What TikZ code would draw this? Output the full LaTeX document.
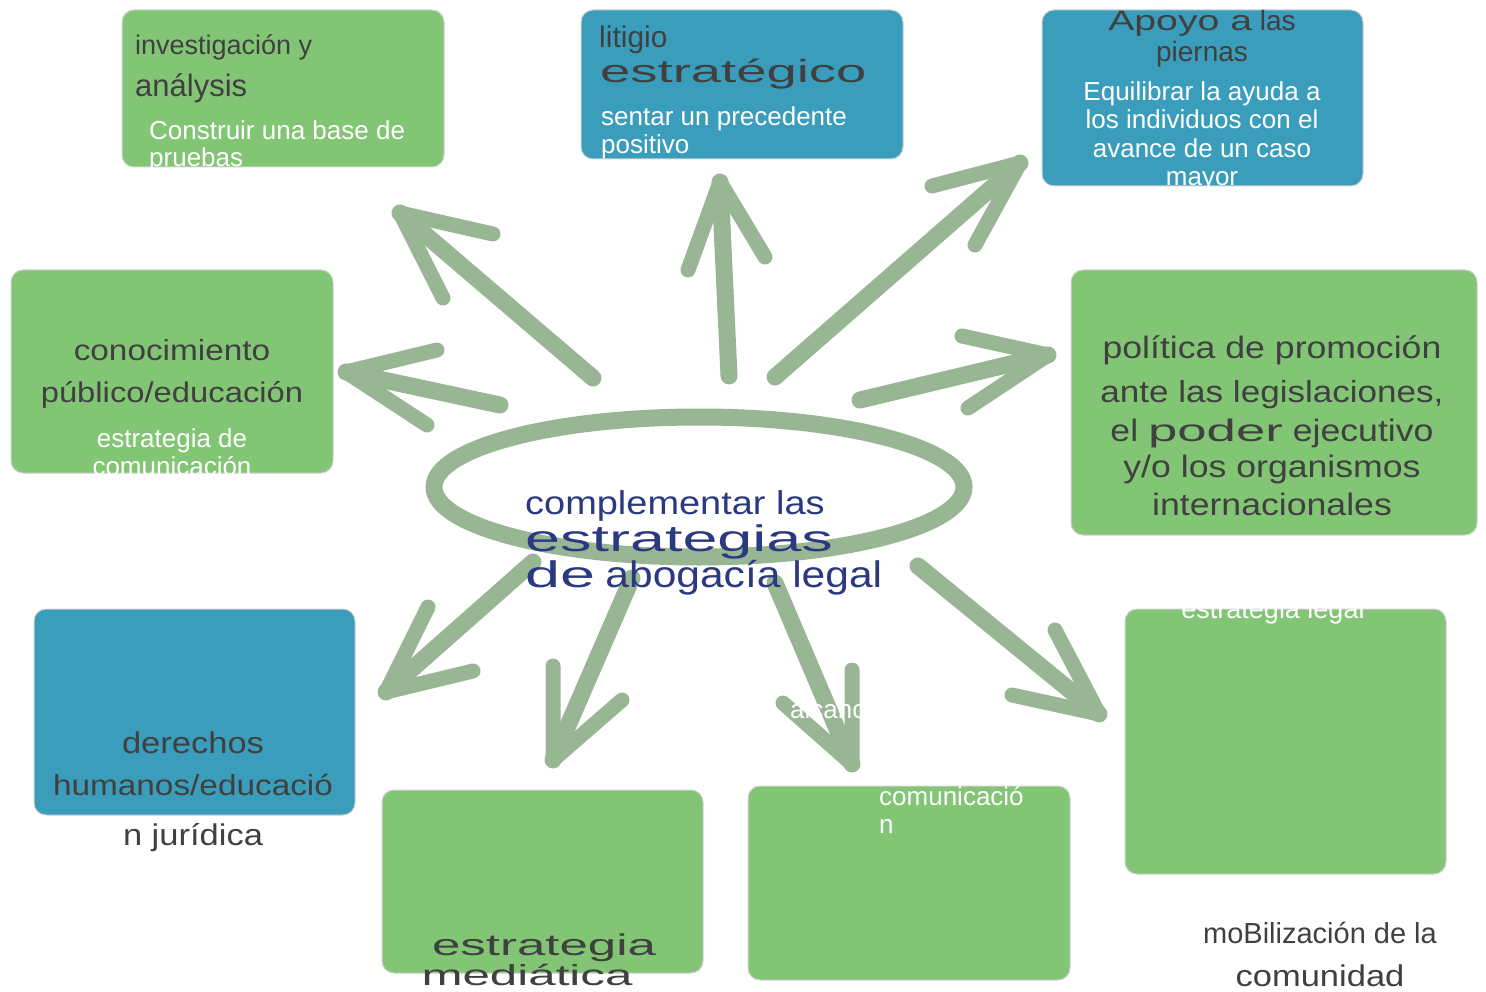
\documentclass[tikz,border=0pt]{standalone}
\usepackage{fontspec}
\setmainfont{Liberation Sans}
\newfontfamily\widefont[FakeStretch=1.7]{Liberation Sans}
\newfontfamily\midfont[FakeStretch=1.15]{Liberation Sans}
\newfontfamily\apoyofont[FakeStretch=1.4]{Liberation Sans}
\usepackage{tikz}
\usetikzlibrary{shapes.geometric}
\definecolor{boxgreen}{HTML}{82C574}
\definecolor{boxblue}{HTML}{3A9DBC}
\definecolor{brushgreen}{HTML}{98B594}
\definecolor{darktext}{HTML}{404040}
\definecolor{navytext}{HTML}{2B3A80}
\newcommand{\px}[1]{\fontsize{#1}{#1}\selectfont}

\begin{document}
\begin{tikzpicture}[x=1pt,y=-1pt,
  box/.style={rounded corners=12pt,draw=black!18,line width=1pt,inner sep=0pt},
  greenbox/.style={box,fill=boxgreen},
  bluebox/.style={box,fill=boxblue},
  brush/.style={brushgreen,line width=17pt,line cap=round,line join=round},
  tipline/.style={brushgreen,line width=15pt,line cap=round,line join=round},
  dark/.style={text=darktext,inner sep=0pt},
  light/.style={text=white,inner sep=0pt},
  navy/.style={text=navytext,inner sep=0pt}]
\useasboundingbox (0,0) rectangle (1486,992);

% Central ellipse
\node[ellipse,draw=brushgreen,line width=17pt,minimum width=530pt,minimum height=140pt,inner sep=0pt] (hub) at (699,487) {};

% Arrow end points
\coordinate (t1) at (593,378); \coordinate (h1) at (400,213); \coordinate (a1) at (443,298); \coordinate (b1) at (493,234);
\coordinate (t2) at (500,405); \coordinate (h2) at (346,372); \coordinate (a2) at (437,350); \coordinate (b2) at (427,425);
\coordinate (t3) at (729,376); \coordinate (h3) at (720,182); \coordinate (a3) at (688,270); \coordinate (b3) at (765,257);
\coordinate (t4) at (775,377); \coordinate (h4) at (1020,163); \coordinate (a4) at (932,186); \coordinate (b4) at (975,245);
\coordinate (t5) at (860,400); \coordinate (h5) at (1048,355); \coordinate (a5) at (962,336); \coordinate (b5) at (968,408);
\coordinate (t6) at (533,562); \coordinate (h6) at (386,692); \coordinate (a6) at (428,607); \coordinate (b6) at (473,671);
\coordinate (t7) at (632,578); \coordinate (h7) at (553,760); \coordinate (a7) at (553,666); \coordinate (b7) at (622,700);
\coordinate (t8) at (775,583); \coordinate (h8) at (852,764); \coordinate (a8) at (783,703); \coordinate (b8) at (852,670);
\coordinate (t9) at (918,566); \coordinate (h9) at (1099,714); \coordinate (a9) at (1055,630); \coordinate (b9) at (1012,695);

% Brush arrows - upper half
\draw[brush] (t1) -- (h1); \draw[tipline] (a1) -- (h1) -- (b1);
\draw[brush] (t2) -- (h2); \draw[tipline] (a2) -- (h2) -- (b2);
\draw[brush] (t3) -- (h3); \draw[tipline] (a3) -- (h3) -- (b3);
\draw[brush] (t4) -- (h4); \draw[tipline] (a4) -- (h4) -- (b4);
\draw[brush] (t5) -- (h5); \draw[tipline] (a5) -- (h5) -- (b5);

% Brush arrows - lower half
\draw[brush] (t6) -- (h6); \draw[tipline] (a6) -- (h6) -- (b6);
\draw[brush] (t7) -- (h7); \draw[tipline] (a7) -- (h7) -- (b7);
\draw[brush] (t8) -- (h8); \draw[tipline] (a8) -- (h8) -- (b8);
\draw[brush] (t9) -- (h9); \draw[tipline] (a9) -- (h9) -- (b9);

% Boxes - top row
\node[greenbox,minimum width=322pt,minimum height=157pt] (invbox) at (283,88.5) {};
\node[bluebox,minimum width=322pt,minimum height=149pt] (litbox) at (742,84.5) {};
\node[bluebox,minimum width=321pt,minimum height=176pt] (apoyobox) at (1202.5,98) {};

% Boxes - middle row
\node[greenbox,minimum width=322pt,minimum height=203pt] (conbox) at (172,371.5) {};
\node[greenbox,minimum width=406pt,minimum height=265pt] (polbox) at (1274,402.5) {};

% Boxes - bottom row
\node[bluebox,minimum width=321pt,minimum height=206pt] (derbox) at (194.5,712) {};
\node[greenbox,minimum width=321pt,minimum height=183pt] (medbox) at (542.5,881.5) {};
\node[greenbox,minimum width=322pt,minimum height=194pt] (comubox) at (909,883) {};
\node[greenbox,minimum width=321pt,minimum height=265pt] (mobbox) at (1285.5,741.5) {};

% Center text
\node[navy,anchor=base west,font=\midfont\px{33}] (c1) at (525,514) {complementar las};
\node[navy,anchor=base west,font=\widefont\px{37}] (c2) at (525,551) {estrategias};
\node[navy,anchor=base west,font=\px{37}] (c3) at (525,587) {{\widefont de} {\midfont abogacía legal}};

% Texts - investigacion
\node[dark,anchor=base west,font=\px{27}] (inv1) at (135,55) {investigación y};
\node[dark,anchor=base west,font=\px{31}] (inv2) at (135,97) {análysis};
\node[light,anchor=base west,font=\px{26}] (inv3) at (149,140) {Construir una base de};
\node[light,anchor=base west,font=\px{26}] (inv4) at (149,167) {pruebas};

% Texts - litigio
\node[dark,anchor=base west,font=\px{30}] (lit1) at (599,48) {litigio};
\node[dark,anchor=base west,font=\widefont\px{32}] (lit2) at (600,83) {estratégico};
\node[light,anchor=base west,font=\px{26}] (lit3) at (601,126) {sentar un precedente};
\node[light,anchor=base west,font=\px{26}] (lit4) at (601,154) {positivo};

% Texts - apoyo
\node[dark,anchor=base,font=\px{28}] (apo1) at (1202,31) {{\apoyofont Apoyo a} las};
\node[dark,anchor=base,font=\px{28}] (apo2) at (1202,62) {piernas};
\node[light,anchor=base,font=\px{26}] (apo3) at (1202,101) {Equilibrar la ayuda a};
\node[light,anchor=base,font=\px{26}] (apo4) at (1202,129) {los individuos con el};
\node[light,anchor=base,font=\px{26}] (apo5) at (1202,158) {avance de un caso};
\node[light,anchor=base,font=\px{26}] (apo6) at (1202,186) {mayor};

% Texts - conocimiento
\node[dark,anchor=base,font=\midfont\px{29}] (con1) at (172,360) {conocimiento};
\node[dark,anchor=base,font=\midfont\px{28.5}] (con2) at (172,402) {público/educación};
\node[light,anchor=base,font=\px{26}] (con3) at (172,447) {estrategia de};
\node[light,anchor=base,font=\px{26}] (con4) at (172,475) {comunicación};

% Texts - politica
\node[dark,anchor=base,font=\midfont\px{31}] (pol1) at (1272,358) {política de promoción};
\node[dark,anchor=base,font=\midfont\px{30.5}] (pol2) at (1272,402) {ante las legislaciones,};
\node[dark,anchor=base,font=\midfont\px{31}] (pol3) at (1272,441) {el {\widefont poder} ejecutivo};
\node[dark,anchor=base,font=\midfont\px{31}] (pol4) at (1272,477) {y/o los organismos};
\node[dark,anchor=base,font=\midfont\px{31}] (pol5) at (1272,515) {internacionales};

% Texts - derechos
\node[dark,anchor=base,font=\midfont\px{30}] (der1) at (193,753) {derechos};
\node[dark,anchor=base,font=\midfont\px{29}] (der2) at (193,795) {humanos/educació};
\node[dark,anchor=base,font=\midfont\px{30}] (der3) at (193,845) {n jurídica};

% Texts - mediatica
\node[dark,anchor=base,font=\widefont\px{30}] (med1) at (544,955) {estrategia};
\node[dark,anchor=base,font=\widefont\px{29}] (med2) at (527,985) {mediática};

% Texts - comunicacion
\node[light,anchor=base west,font=\px{26}] (com0) at (790,718) {alcance};
\node[light,anchor=base west,font=\px{26}] (com1) at (879,805) {comunicació};
\node[light,anchor=base west,font=\px{26}] (com2) at (879,833) {n};

% Texts - movilizacion
\node[light,anchor=base,font=\px{27}] (mob0) at (1273,618) {estrategia legal};
\node[dark,anchor=base,font=\px{29}] (mob1) at (1320,943) {moBilización de la};
\node[dark,anchor=base,font=\midfont\px{30}] (mob2) at (1320,986) {comunidad};
\end{tikzpicture}
\end{document}
